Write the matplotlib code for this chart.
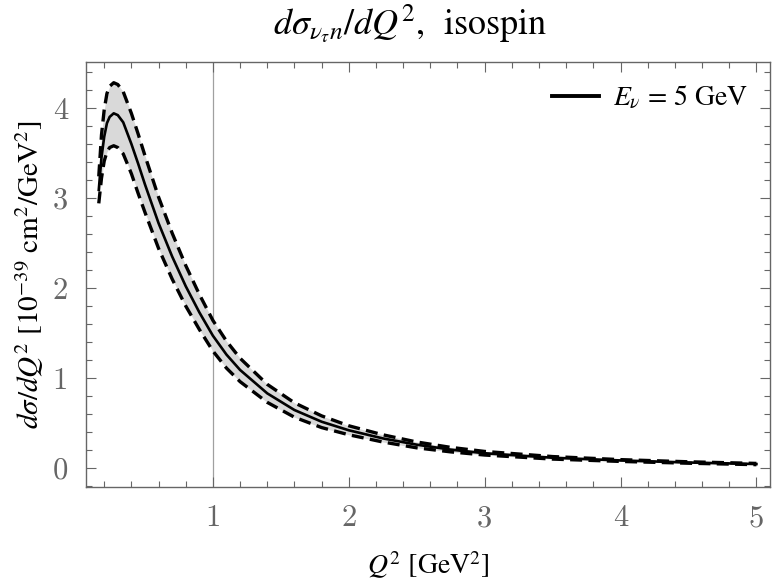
import numpy as np
import matplotlib.pyplot as plt

plt.rcParams['mathtext.fontset'] = 'stix'
plt.rcParams['font.family'] = 'STIXGeneral'

# Q^2 [GeV^2]
q2 = [0.16, 0.18, 0.20, 0.22, 0.24, 0.27, 0.30, 0.34, 0.40, 0.45, 0.50, 0.60, 0.70,
      0.80, 0.90, 1.00, 1.10, 1.20, 1.40, 1.60, 1.80, 2.00, 2.25, 2.50, 2.75,
      3.00, 3.50, 4.00, 4.50, 5.00]
central = [3.09, 3.45, 3.68, 3.83, 3.90, 3.94, 3.92, 3.84, 3.60, 3.38, 3.15, 2.72, 2.35,
           2.02, 1.73, 1.47, 1.26, 1.09, 0.83, 0.645, 0.515, 0.42, 0.33, 0.26, 0.205,
           0.165, 0.115, 0.085, 0.062, 0.045]
upper = [3.24, 3.70, 3.98, 4.16, 4.24, 4.28, 4.26, 4.18, 3.94, 3.71, 3.47, 3.01, 2.61,
         2.25, 1.93, 1.64, 1.41, 1.22, 0.93, 0.725, 0.58, 0.47, 0.37, 0.29, 0.23,
         0.185, 0.128, 0.094, 0.070, 0.052]
lower = [2.94, 3.22, 3.41, 3.51, 3.56, 3.58, 3.56, 3.49, 3.27, 3.05, 2.84, 2.44, 2.10,
         1.80, 1.54, 1.30, 1.11, 0.96, 0.73, 0.565, 0.45, 0.37, 0.29, 0.225, 0.18,
         0.145, 0.10, 0.074, 0.054, 0.038]

gray = '#666666'

fig = plt.figure(figsize=(7.72, 5.85), dpi=100)
ax = fig.add_axes([86/772, 1 - 487/585, (770 - 86)/772, (487 - 62)/585])

ax.fill_between(q2, lower, upper, color='#d9d9d9', lw=0, zorder=1)
ax.plot(q2, central, color='black', lw=1.9, zorder=3, label=r'$E_\nu$ = 5 GeV')
for band in (upper, lower):
    ax.plot(q2, band, color='black', lw=2.4, linestyle=(0, (3.6, 1.9)), zorder=3)

ax.axvline(1.0, color='#a0a0a0', lw=0.9, zorder=0)

ax.set_xlim(0.066, 5.10)
ax.set_ylim(-0.21, 4.51)

ax.set_xticks([1, 2, 3, 4, 5])
ax.set_yticks([0, 1, 2, 3, 4])
ax.set_xticks(np.arange(0.2, 5.05, 0.2), minor=True)
ax.set_yticks(np.arange(-0.2, 4.5, 0.2), minor=True)
ax.tick_params(which='both', direction='in', top=True, right=True, color=gray,
               labelcolor=gray, width=0.8)
ax.tick_params(which='major', length=7, labelsize=22, pad=13)
ax.tick_params(which='minor', length=4)
for lab in ax.get_xticklabels() + ax.get_yticklabels():
    lab.set_fontfamily('cmr10')
for s in ax.spines.values():
    s.set_color(gray)
    s.set_linewidth(1.0)

leg = ax.legend(loc='upper right', frameon=False, fontsize=20, handlelength=1.7,
                handletextpad=0.5, borderaxespad=0.4)
leg.get_lines()[0].set_linewidth(2.8)

fig.text(410/772, 1 - 24/585, r'$d\sigma_{\nu_\tau n}/dQ^2$,  isospin',
         ha='center', va='center', fontsize=26)
ax.set_xlabel(r'$Q^2$ [GeV$^2$]', fontsize=20, labelpad=12)
ax.set_ylabel(r'$d\sigma/dQ^2$ [10$^{-39}$ cm$^2$/GeV$^2$]', fontsize=21, labelpad=5)

fig.savefig('out.png', dpi=100)
